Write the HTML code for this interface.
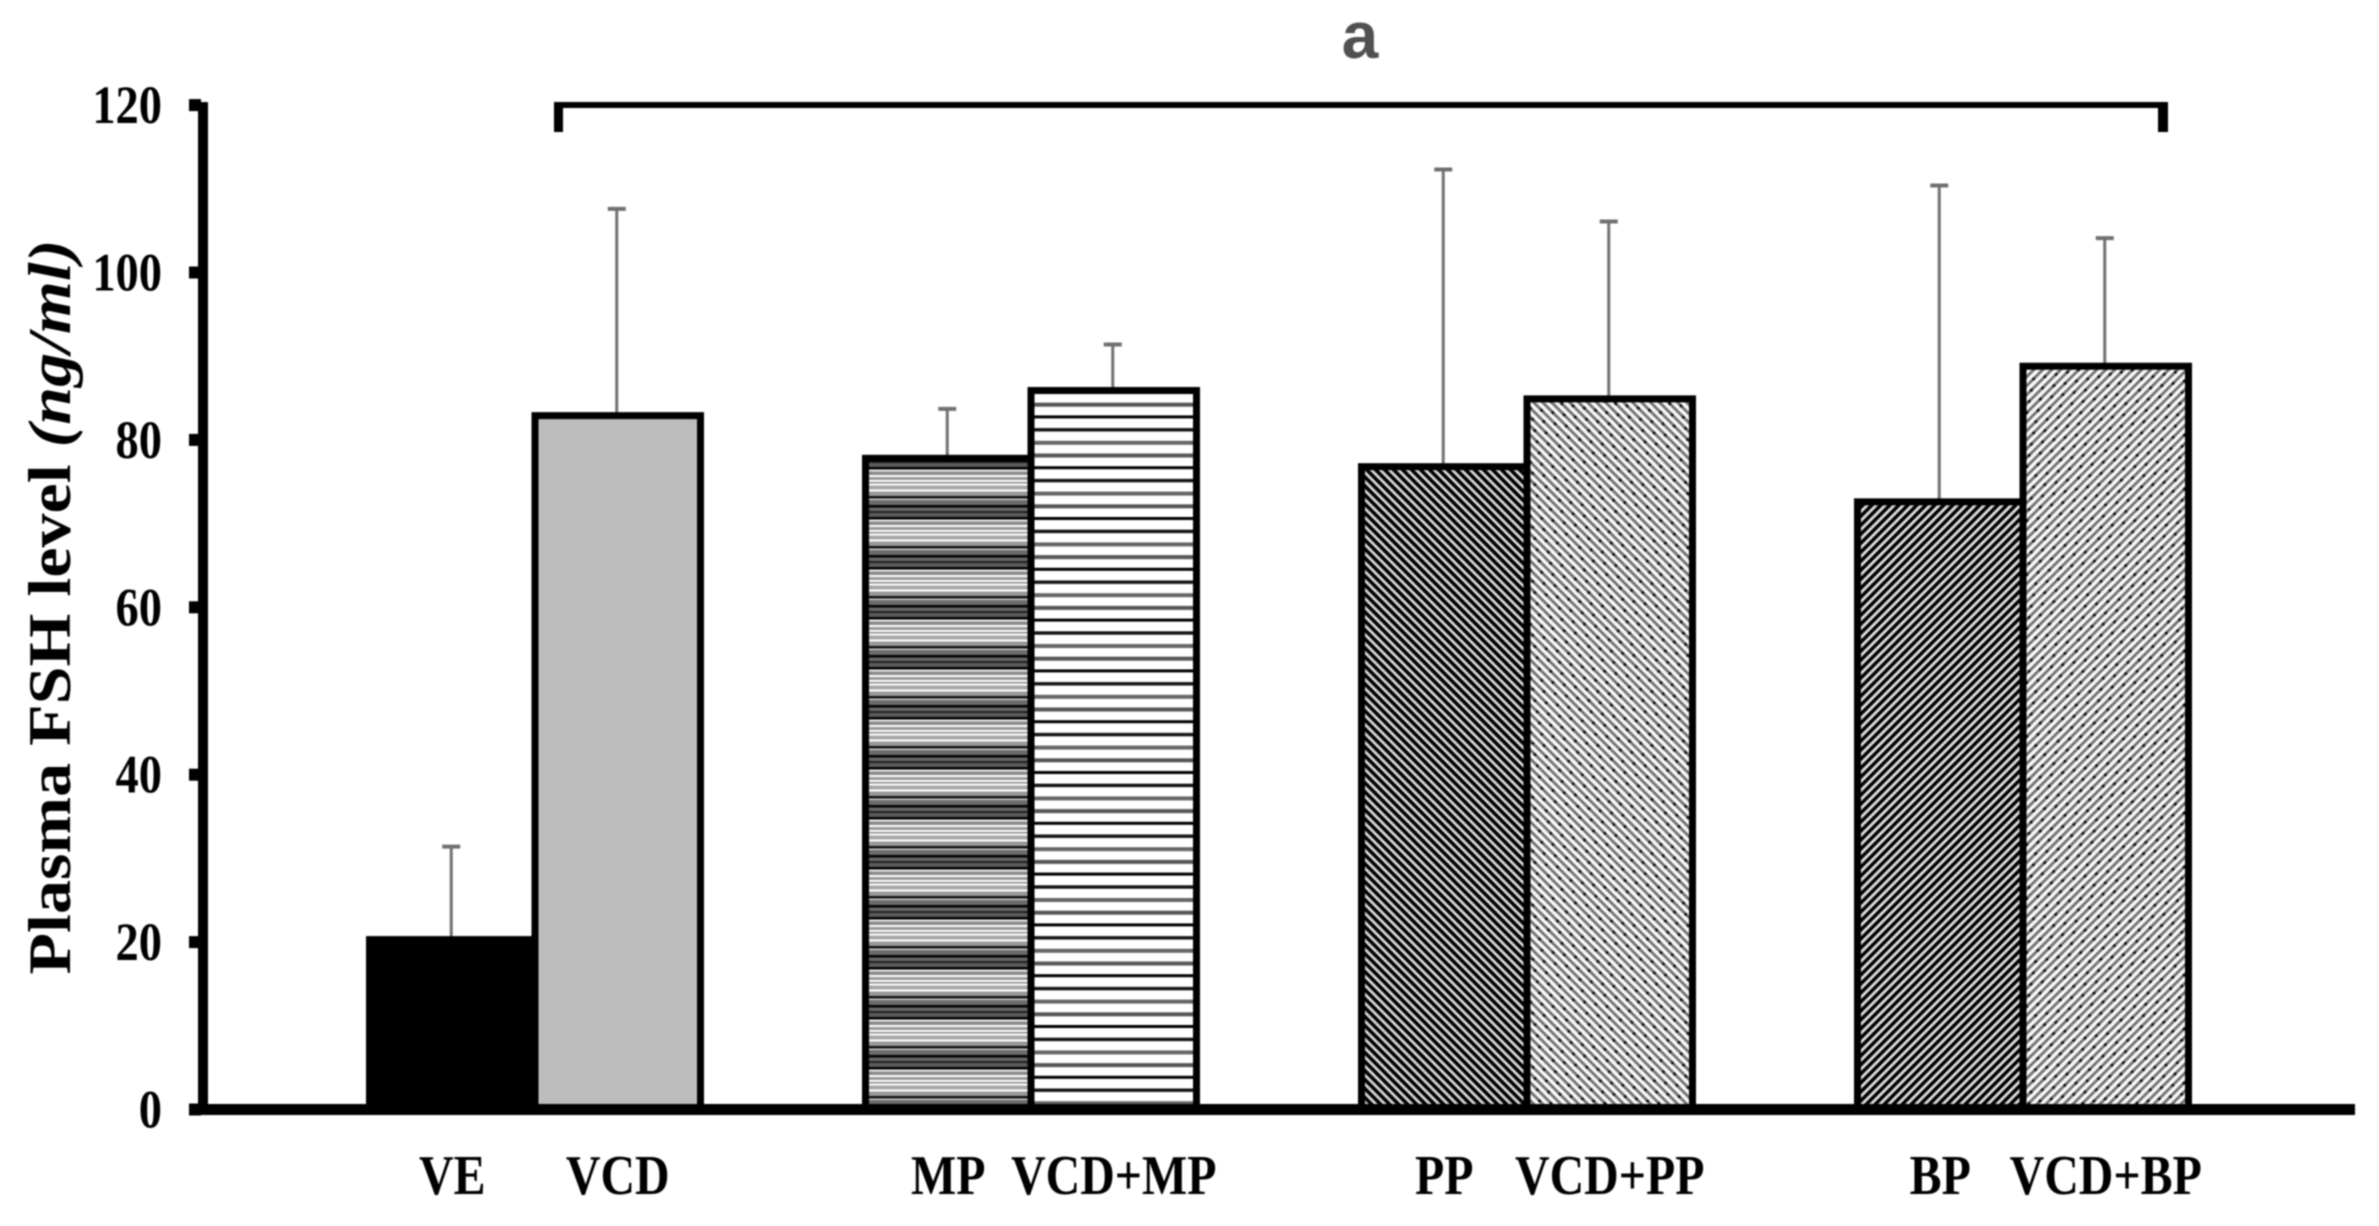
<!DOCTYPE html>
<html lang="en">
<head>
<meta charset="utf-8">
<title>Plasma FSH level</title>
<style>
  html, body { margin: 0; padding: 0; background: #fff; }
  body { width: 2379px; height: 1226px; overflow: hidden; }
  svg { display: block; filter: blur(0.7px); }
  text { font-family: "Liberation Serif", serif; font-weight: bold; fill: #000; }
</style>
</head>
<body>
<svg id="chart" xmlns="http://www.w3.org/2000/svg" width="2379" height="1226" viewBox="0 0 2379 1226">
  <defs>
    <pattern id="fill-mp" patternUnits="userSpaceOnUse" width="50" height="50" patternTransform="translate(0,5)">
      <rect width="50" height="50" fill="#a0a0a0"/>
      <rect y="0" width="50" height="2.5" fill="#000"/>
      <rect y="2.5" width="50" height="3.5" fill="#666"/>
      <rect y="6" width="50" height="2" fill="#222"/>
      <rect y="8" width="50" height="4" fill="#5a5a5a"/>
      <rect y="12" width="50" height="2.5" fill="#000"/>
      <rect y="14.5" width="50" height="2" fill="#e8e8e8"/>
      <rect y="16.5" width="50" height="3.5" fill="#8c8c8c"/>
      <rect y="20" width="50" height="2" fill="#fff"/>
      <rect y="22" width="50" height="3" fill="#999"/>
      <rect y="25" width="50" height="2" fill="#fff"/>
      <rect y="27" width="50" height="1.5" fill="#888"/>
      <rect y="28.5" width="50" height="2" fill="#fff"/>
      <rect y="30.5" width="50" height="4" fill="#a8a8a8"/>
      <rect y="34.5" width="50" height="2" fill="#fff"/>
      <rect y="36.5" width="50" height="4.5" fill="#999"/>
      <rect y="41" width="50" height="2.5" fill="#111"/>
      <rect y="43.5" width="50" height="1.5" fill="#ccc"/>
      <rect y="45" width="50" height="5" fill="#6c6c6c"/>
    </pattern>
    <pattern id="fill-vcd-mp" patternUnits="userSpaceOnUse" width="50.8" height="50.8" patternTransform="translate(0,9)">
      <rect width="50.8" height="50.8" fill="#fff"/>
      <rect y="0" width="50.8" height="3" fill="#000"/>
      <rect y="12.7" width="50.8" height="3.4" fill="#111"/>
      <rect y="25.4" width="50.8" height="4" fill="#666"/>
      <rect y="38.1" width="50.8" height="4" fill="#555"/>
    </pattern>
    <pattern id="fill-pp" patternUnits="userSpaceOnUse" width="20" height="6.36" patternTransform="rotate(45)">
      <rect width="20" height="6.36" fill="#dcdcdc"/>
      <rect y="0" width="20" height="3.6" fill="#000"/>
    </pattern>
    <pattern id="fill-vcd-pp" patternUnits="userSpaceOnUse" width="19.1" height="12.72" patternTransform="rotate(45)">
      <rect width="19.1" height="12.72" fill="#f8f8f8"/>
      <rect y="0" width="19.1" height="2.8" fill="#707070"/>
      <rect y="6.36" width="19.1" height="2.8" fill="#707070"/>
      <circle cx="5" cy="1.4" r="1.6" fill="#111"/>
      <circle cx="14.5" cy="7.8" r="1.6" fill="#111"/>
    </pattern>
    <pattern id="fill-bp" patternUnits="userSpaceOnUse" width="20" height="6.36" patternTransform="rotate(-45)">
      <rect width="20" height="6.36" fill="#e0e0e0"/>
      <rect y="0" width="20" height="3.5" fill="#000"/>
    </pattern>
    <pattern id="fill-vcd-bp" patternUnits="userSpaceOnUse" width="19.1" height="12.72" patternTransform="rotate(-45)">
      <rect width="19.1" height="12.72" fill="#f8f8f8"/>
      <rect y="0" width="19.1" height="2.8" fill="#707070"/>
      <rect y="6.36" width="19.1" height="2.8" fill="#707070"/>
      <circle cx="5" cy="1.4" r="1.6" fill="#111"/>
      <circle cx="14.5" cy="7.8" r="1.6" fill="#111"/>
    </pattern>
  </defs>

  <g id="errors"></g>
  <g id="bars"></g>
  <g id="axes"></g>
  <g id="x-labels"></g>
  <g id="y-labels"></g>

  <text transform="translate(70,607) rotate(-90)" text-anchor="middle" font-size="60" textLength="735" lengthAdjust="spacingAndGlyphs">Plasma&#160;FSH level <tspan font-style="italic">(ng/ml)</tspan></text>

  <rect x="554" y="102" width="1614" height="6" fill="#000"/>
  <rect x="554" y="102" width="9" height="30" fill="#000"/>
  <rect x="2158" y="102" width="10" height="30" fill="#000"/>
  <text x="1360" y="58" text-anchor="middle" font-size="66" style="font-family:'Liberation Sans',sans-serif;fill:#505050">a</text>
</svg>

<script>
const categories = ["VE", "VCD", "MP", "VCD+MP", "PP", "VCD+PP", "BP", "VCD+BP"];
const meanValues = [20.3, 82.9, 77.8, 85.9, 76.8, 84.9, 72.6, 88.8];
const errorTopValues = [31.4, 107.6, 83.7, 91.4, 112.3, 106.1, 110.4, 104.1];
const yTickLabels = [0, 20, 40, 60, 80, 100, 120];

const barFillByCategory = {
  "VE": "#000",
  "VCD": "#bdbdbd",
  "MP": "url(#fill-mp)",
  "VCD+MP": "url(#fill-vcd-mp)",
  "PP": "url(#fill-pp)",
  "VCD+PP": "url(#fill-vcd-pp)",
  "BP": "url(#fill-bp)",
  "VCD+BP": "url(#fill-vcd-bp)"
};

const SVG_NS = "http://www.w3.org/2000/svg";
const yZero = 1109.5;
const yPerUnit = 8.37;
const firstBarX = 369.5;
const groupStep = 496;
const barWidth = 165.5;

function yScale(v) { return yZero - v * yPerUnit; }
function barLeft(i) { return firstBarX + Math.floor(i / 2) * groupStep + (i % 2) * barWidth; }
function barCenter(i) { return barLeft(i) + barWidth / 2; }
function slug(s) { return s.toLowerCase().replace(/\+/g, "-plus-"); }

function make(tag, parent, attrs) {
  const el = document.createElementNS(SVG_NS, tag);
  for (const k in attrs) el.setAttribute(k, attrs[k]);
  parent.appendChild(el);
  return el;
}

const errorsG = document.getElementById("errors");
const barsG = document.getElementById("bars");
const axesG = document.getElementById("axes");
const xLabelsG = document.getElementById("x-labels");
const yLabelsG = document.getElementById("y-labels");

categories.forEach(function (cat, i) {
  const cx = barCenter(i);

  const stem = make("line", errorsG, { x1: cx - 1, x2: cx - 1, y1: yScale(errorTopValues[i]), y2: yScale(meanValues[i]), stroke: "#707070", "stroke-width": 3 });
  
  

  const cap = make("line", errorsG, { x1: cx - 10, x2: cx + 8, y1: yScale(errorTopValues[i]), y2: yScale(errorTopValues[i]), stroke: "#707070", "stroke-width": 4 });
  
  

  const bar = make("rect", barsG, { x: barLeft(i), y: yScale(meanValues[i]), width: barWidth, height: yScale(0) - yScale(meanValues[i]), fill: barFillByCategory[cat], stroke: "#000", "stroke-width": 7 });
  
  

  const label = make("text", xLabelsG, { transform: "translate(" + cx + ",1194) scale(0.855,1)", "text-anchor": "middle", "font-size": 56 });
  label.textContent = cat;
  
  
});

yTickLabels.forEach(function (t) {
  const tick = make("rect", axesG, { x: 189, y: yScale(t) - 6, width: 12, height: 12, fill: "#000" });
  
  

  const label = make("text", yLabelsG, { transform: "translate(162," + (yScale(t) + 18) + ") scale(0.86,1)", "text-anchor": "end", "font-size": 54 });
  label.textContent = t;
  
  
});

const yAxisLine = make("rect", axesG, { x: 198, y: yScale(120) - 3, width: 10, height: yScale(0) - yScale(120) + 6, fill: "#000" });



const xAxisLine = make("rect", axesG, { x: 189, y: 1104, width: 2166, height: 11, fill: "#000" });


</script>
</body>
</html>
